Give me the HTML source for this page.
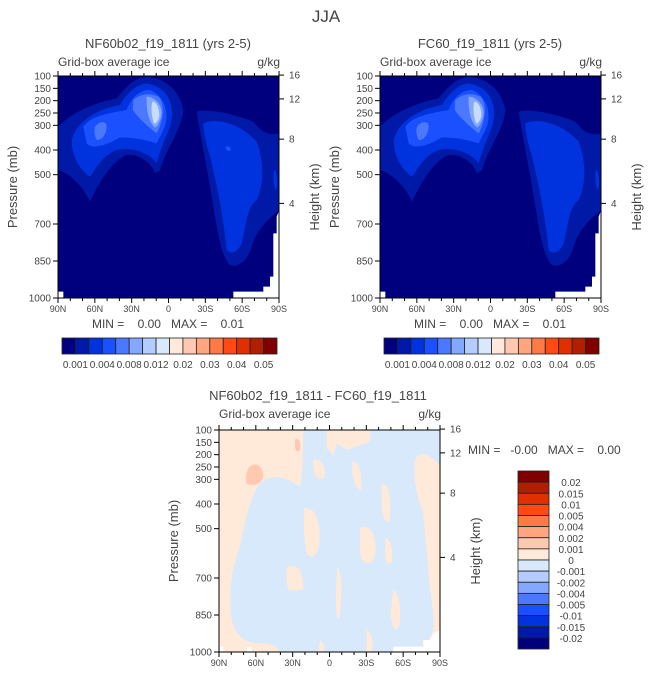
<!DOCTYPE html>
<html><head><meta charset="utf-8">
<style>
html,body{margin:0;padding:0;background:#fff;}
svg{display:block;font-family:"Liberation Sans",sans-serif;}
text{fill:#444;}
</style></head>
<body>
<svg id="chart" width="648" height="676" viewBox="0 0 648 676" xmlns="http://www.w3.org/2000/svg">
<text x="326" y="22" font-size="17" text-anchor="middle">JJA</text>

<!-- Panel 1 -->
<g>
<text x="168" y="48" font-size="13" text-anchor="middle">NF60b02_f19_1811 (yrs 2-5)</text>
<text x="58" y="66" font-size="12">Grid-box average ice</text>
<text x="280" y="66" font-size="12" text-anchor="end">g/kg</text>
<g transform="translate(0,30) scale(0.33333)">
<rect x="175" y="138" width="663" height="665" fill="#00007f"/>
<path fill="#0019a6" d="M175,290 C220,240 300,215 350,205 C380,170 400,145 440,140 C500,145 540,185 550,240 C545,300 500,350 480,420 L465,430 C455,400 420,372 380,375 C340,390 300,450 270,515 C250,470 210,430 175,420Z"/>
<path fill="#0033dd" d="M215,330 C230,270 300,235 360,225 C385,180 420,160 440,160 C500,170 530,220 510,290 C495,330 480,360 470,400 C450,370 400,350 350,360 C300,380 280,430 270,440 C240,420 215,380 215,330Z"/>
<path fill="#1a50ff" d="M250,290 C270,260 320,250 380,240 C395,200 420,180 450,180 C500,200 510,260 490,300 C480,320 470,340 470,340 C440,330 400,322 360,322 C320,345 280,360 260,340Z"/>
<path fill="#4a78ff" d="M285,290 C295,275 320,270 320,290 C318,320 300,332 290,330 C282,315 282,300 285,290Z M400,210 C415,195 445,185 475,200 C495,220 492,270 470,310 C450,295 420,270 398,240Z"/>
<path fill="#84a8ff" d="M440,200 C460,200 485,220 485,250 C482,275 470,292 465,292 C448,280 438,245 440,200Z"/>
<path fill="#c8dcff" d="M457,215 C470,215 478,235 478,258 C474,275 466,282 462,280 C455,260 452,235 457,215Z"/>
<path fill="#0019a6" d="M590,245 C620,235 700,250 760,275 C780,300 800,320 838,310 L838,540 C800,570 770,600 755,650 C740,700 710,712 690,705 C665,680 655,620 640,530 C625,430 605,340 590,245Z"/>
<path fill="#0033dd" d="M610,280 C650,262 720,280 770,335 C795,400 790,470 770,510 C740,530 738,590 725,640 C710,672 690,672 680,660 C672,580 655,480 630,380 C615,330 610,300 610,280Z M822,420 C832,420 834,470 828,480 C820,470 818,440 822,420Z"/>
<path fill="#1a50ff" d="M676,352 C682,345 694,350 692,360 C686,366 678,362 676,352Z"/>
<path fill="#fff" d="M838,540 L830,560 L830,610 L820,610 L820,740 L810,740 L810,770 L790,770 L790,785 L700,785 L700,803 L838,803Z M175,785 L190,785 L190,803 L175,803Z"/>
</g>
<g class="axes" data-x="58" data-y="76" data-w="221" data-h="222"></g>
<text x="168" y="328" font-size="12" text-anchor="middle" xml:space="preserve">MIN =    0.00   MAX =    0.01</text>
<g class="hbar" data-x="62" data-y="338" data-w="215" data-h="16"></g>
</g>

<!-- Panel 2 -->
<g>
<text x="490" y="48" font-size="13" text-anchor="middle">FC60_f19_1811 (yrs 2-5)</text>
<text x="380" y="66" font-size="12">Grid-box average ice</text>
<text x="602" y="66" font-size="12" text-anchor="end">g/kg</text>
<g transform="translate(322,30) scale(0.33333)">
<rect x="175" y="138" width="663" height="665" fill="#00007f"/>
<path fill="#0019a6" d="M175,290 C220,240 300,215 350,205 C380,170 400,145 440,140 C500,145 540,185 550,240 C545,300 500,350 480,420 L465,430 C455,400 420,372 380,375 C340,390 300,450 270,515 C250,470 210,430 175,420Z"/>
<path fill="#0033dd" d="M215,330 C230,270 300,235 360,225 C385,180 420,160 440,160 C500,170 530,220 510,290 C495,330 480,360 470,400 C450,370 400,350 350,360 C300,380 280,430 270,440 C240,420 215,380 215,330Z"/>
<path fill="#1a50ff" d="M250,290 C270,260 320,250 380,240 C395,200 420,180 450,180 C500,200 510,260 490,300 C480,320 470,340 470,340 C440,330 400,322 360,322 C320,345 280,360 260,340Z"/>
<path fill="#4a78ff" d="M285,290 C295,275 320,270 320,290 C318,320 300,332 290,330 C282,315 282,300 285,290Z M400,210 C415,195 445,185 475,200 C495,220 492,270 470,310 C450,295 420,270 398,240Z"/>
<path fill="#84a8ff" d="M440,200 C460,200 485,220 485,250 C482,275 470,292 465,292 C448,280 438,245 440,200Z"/>
<path fill="#c8dcff" d="M457,215 C470,215 478,235 478,258 C474,275 466,282 462,280 C455,260 452,235 457,215Z"/>
<path fill="#0019a6" d="M590,245 C620,235 700,250 760,275 C780,300 800,320 838,310 L838,540 C800,570 770,600 755,650 C740,700 710,712 690,705 C665,680 655,620 640,530 C625,430 605,340 590,245Z"/>
<path fill="#0033dd" d="M610,280 C650,262 720,280 770,335 C795,400 790,470 770,510 C740,530 738,590 725,640 C710,672 690,672 680,660 C672,580 655,480 630,380 C615,330 610,300 610,280Z M822,420 C832,420 834,470 828,480 C820,470 818,440 822,420Z"/>
<path fill="#fff" d="M838,540 L830,560 L830,610 L820,610 L820,740 L810,740 L810,770 L790,770 L790,785 L700,785 L700,803 L838,803Z M175,785 L190,785 L190,803 L175,803Z"/>
</g>
<g class="axes" data-x="380" data-y="76" data-w="221" data-h="222"></g>
<text x="490" y="328" font-size="12" text-anchor="middle" xml:space="preserve">MIN =    0.00   MAX =    0.01</text>
<g class="hbar" data-x="384" data-y="338" data-w="215" data-h="16"></g>
</g>

<!-- Panel 3 -->
<g>
<text x="318" y="400" font-size="13" text-anchor="middle">NF60b02_f19_1811 - FC60_f19_1811</text>
<text x="219" y="418" font-size="12">Grid-box average ice</text>
<text x="441" y="418" font-size="12" text-anchor="end">g/kg</text>
<g transform="translate(160,380) scale(0.33333)">
<rect x="177" y="150" width="663" height="667" fill="#ffe9d9"/>
<path fill="#d7e9fb" d="M430,150 L500,150 L500,200 L520,230 L530,190 L560,210 L630,185 L630,150 L840,150 L840,255 C810,225 790,215 770,230 C755,270 765,330 790,400 C800,500 805,600 820,700 C825,760 810,790 760,817 L360,817 C350,800 340,790 300,790 C260,790 230,775 215,720 C205,640 215,560 240,500 C255,420 275,340 300,310 C330,280 380,290 420,320 C430,280 428,220 430,150Z"/>
<path fill="#ffe9d9" d="M460,240 C480,232 495,250 495,290 C485,300 472,295 468,290 C460,270 458,255 460,240Z M578,245 C598,245 606,280 604,330 C590,330 578,300 576,270Z M432,385 C470,378 482,430 478,490 C472,530 450,540 440,520 C432,480 430,430 432,385Z M600,445 C635,425 652,480 645,530 C630,565 606,550 600,520Z M665,310 C690,310 692,360 690,420 C680,435 668,420 665,380Z M676,475 C695,475 700,520 695,545 C682,560 676,540 676,515Z M382,560 C410,552 428,560 430,630 L385,632 C378,600 378,580 382,560Z M532,560 C548,580 545,650 540,700 C535,730 528,720 527,650Z M700,630 C720,640 724,700 718,735 C708,762 695,740 692,700Z M620,750 C640,760 640,790 635,817 L620,817Z M480,780 C495,790 494,805 490,817 L475,817Z"/>
<path fill="#ffc8b0" d="M265,265 C280,245 305,250 310,285 C305,315 285,318 260,312 C255,295 258,280 265,265Z M405,178 C418,172 424,190 420,210 C414,218 406,212 405,200Z"/>
<path fill="#fff" d="M700,800 L790,800 L790,780 L810,780 L820,760 L840,750 L840,817 L700,817Z M180,800 L190,800 L190,817 L180,817Z M262,800 L275,800 L275,817 L262,817Z"/>
</g>
<g class="axes" data-x="219" data-y="430" data-w="221" data-h="222"></g>
<text x="468" y="454" font-size="12" xml:space="preserve">MIN =   -0.00   MAX =    0.00</text>
<g class="vbar" data-x="518" data-y="471" data-w="31" data-h="178"></g>
</g>
</svg>
<script>
// Colorbar levels and colors (data)
const absLabels = ["0.001","0.004","0.008","0.012","0.02","0.03","0.04","0.05"];
const absColors = ["#00007f","#0019a6","#0033dd","#1a50ff","#4a78ff","#84a8ff","#b4ccff","#d7e9fb","#ffe9d9","#ffc8b0","#ffa580","#ff7a45","#ff4a15","#e03000","#b02000","#800000"];
const diffLabels = ["0.02","0.015","0.01","0.005","0.004","0.002","0.001","0","-0.001","-0.002","-0.004","-0.005","-0.01","-0.015","-0.02"];
const diffColors = ["#800000","#b02000","#e03000","#ff4a15","#ff7a45","#ffa580","#ffc8b0","#ffe9d9","#d7e9fb","#b4ccff","#84a8ff","#4a78ff","#1a50ff","#0033dd","#0019a6","#00007f"];
const pTicks = [100,150,200,250,300,400,500,700,850,1000];
const zTicks = [16,12,8,4];
const latTicks = ["90N","60N","30N","0","30S","60S","90S"];

const NS = "http://www.w3.org/2000/svg";
function mk(tag, attrs, parent, txt){
  const e = document.createElementNS(NS, tag);
  for (const k in attrs) e.setAttribute(k, attrs[k]);
  if (txt !== undefined) e.textContent = txt;
  parent.appendChild(e);
  return e;
}
function zToP(z){ return 1013.25*Math.pow(1-2.25577e-5*z*1000,5.25588); }

document.querySelectorAll("g.axes").forEach(g=>{
  const x0=+g.dataset.x, y0=+g.dataset.y, w=+g.dataset.w, h=+g.dataset.h;
  const yP = p => y0 + (p-100)/900*h;
  const xL = i => x0 + i/(latTicks.length-1)*w;
  const st = {stroke:"#000","stroke-width":1,fill:"none"};
  const frame = mk("rect", Object.assign({x:x0,y:y0,width:w,height:h}, st), g);
  
  
  pTicks.forEach(p=>{
    mk("line",{x1:x0-5,x2:x0,y1:yP(p),y2:yP(p),stroke:"#000"},g);
    const t = mk("text",{x:x0-7,y:yP(p)+3.5,"font-size":10,"text-anchor":"end"},g,String(p));
    
    
  });
  zTicks.forEach(z=>{
    const yy = yP(zToP(z));
    mk("line",{x1:x0+w,x2:x0+w+5,y1:yy,y2:yy,stroke:"#000"},g);
    const t = mk("text",{x:x0+w+10,y:yy+3.5,"font-size":10},g,String(z));
    
    
  });
  latTicks.forEach((lab,i)=>{
    const xx = xL(i);
    mk("line",{x1:xx,x2:xx,y1:y0+h,y2:y0+h+5,stroke:"#000"},g);
    mk("line",{x1:xx,x2:xx,y1:y0,y2:y0-5,stroke:"#000"},g);
    const t = mk("text",{x:xx,y:y0+h+14,"font-size":9,"text-anchor":"middle"},g,lab);
    
    
    if (i < latTicks.length-1) for (let k=1;k<3;k++){
      const xm = xx + k*w/(latTicks.length-1)/3;
      mk("line",{x1:xm,x2:xm,y1:y0+h,y2:y0+h+3,stroke:"#000"},g);
      mk("line",{x1:xm,x2:xm,y1:y0,y2:y0-3,stroke:"#000"},g);
    }
  });
  const yl = mk("text",{x:0,y:0,"font-size":13,"text-anchor":"middle",transform:`translate(${x0-41},${y0+h/2}) rotate(-90)`},g,"Pressure (mb)");
  
  
  const yr = mk("text",{x:0,y:0,"font-size":13,"text-anchor":"middle",transform:`translate(${x0+w+40},${y0+h/2+10}) rotate(-90)`},g,"Height (km)");
  
  
});

document.querySelectorAll("g.hbar").forEach(g=>{
  const x0=+g.dataset.x, y0=+g.dataset.y, w=+g.dataset.w, h=+g.dataset.h;
  const bw = w/absColors.length;
  absColors.forEach((c,i)=>{
    const r = mk("rect",{x:x0+i*bw,y:y0,width:bw,height:h,fill:c,stroke:"#222","stroke-width":0.8},g);
    
    
  });
  absLabels.forEach((lab,i)=>{
    const t = mk("text",{x:x0+(2*i+1)*bw,y:y0+h+14,"font-size":10,"text-anchor":"middle"},g,lab);
    
    
  });
});

document.querySelectorAll("g.vbar").forEach(g=>{
  const x0=+g.dataset.x, y0=+g.dataset.y, w=+g.dataset.w, h=+g.dataset.h;
  const bh = h/diffColors.length;
  diffColors.forEach((c,i)=>{
    const r = mk("rect",{x:x0,y:y0+i*bh,width:w,height:bh,fill:c,stroke:"#222","stroke-width":0.8},g);
    
    
  });
  diffLabels.forEach((lab,i)=>{
    const t = mk("text",{x:x0+w+22,y:y0+(i+1)*bh+4,"font-size":10,"text-anchor":"middle"},g,lab);
    
    
  });
});
</script>
</body></html>
